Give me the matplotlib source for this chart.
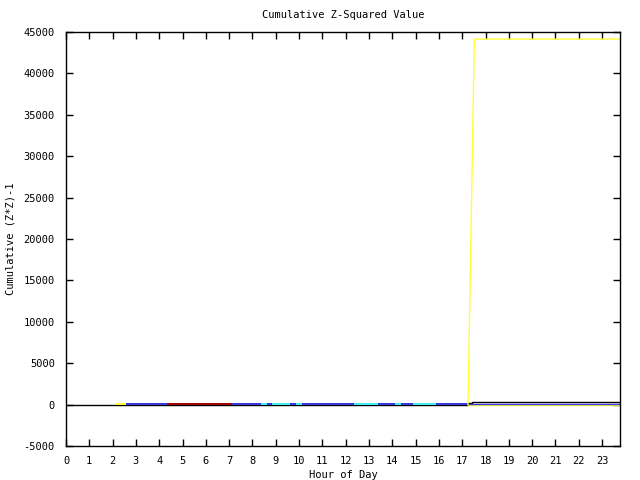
import matplotlib
matplotlib.use("Agg")
import matplotlib.pyplot as plt

# Overall cumulative total (black)
total_hours = [0.0, 17.25, 17.25, 17.4, 17.4, 23.75]
total_vals = [0, 0, 180, 180, 350, 350]

# Near-zero segments coloured by category
seg_start = [2.10, 2.57, 4.34, 7.11, 8.36, 8.62, 8.83, 9.62, 9.86, 10.13, 12.35, 13.39, 14.11, 14.37, 14.87, 15.87]
seg_end   = [2.57, 4.34, 7.11, 8.36, 8.62, 8.83, 9.62, 9.86, 10.13, 12.35, 13.39, 14.11, 14.37, 14.87, 15.87, 17.25]
seg_color = ["yellow", "blue", "red", "blue", "cyan", "blue", "cyan", "blue", "cyan", "blue", "cyan", "blue", "cyan", "blue", "cyan", "blue"]
seg_value = [90, 90, 90, 90, 90, 90, 90, 90, 90, 90, 90, 90, 90, 90, 90, 90]

# Blue after the jump
blue_hours = [17.25, 23.75]
blue_vals = [110, 110]

# Yellow spike
yellow_hours = [17.25, 17.52, 23.75]
yellow_vals = [0, 44150, 44150]
yellow_low_hours = [17.25, 23.75]
yellow_low_vals = [-20, -20]

palette = {"yellow": "#ffff33", "blue": "#3535e0", "red": "#a00000", "cyan": "#40f0f0"}

xticks = list(range(0, 24))
yticks = list(range(-5000, 45001, 5000))

fig = plt.figure(figsize=(6.4, 4.8), dpi=100)
ax = fig.add_axes([66/640, 34/480, (620-66)/640, (446-32)/480])

font = {"family": "DejaVu Sans Mono", "size": 7.5}

ax.plot(total_hours, total_vals, color="black", lw=1.0)
ax.plot(yellow_low_hours, yellow_low_vals, color=palette["yellow"], lw=1.0)
for s, e, c, v in zip(seg_start, seg_end, seg_color, seg_value):
    ax.plot([s, e], [v, v], color=palette[c], lw=1.4, solid_capstyle="butt")
ax.plot(blue_hours, blue_vals, color=palette["blue"], lw=1.0)
ax.plot(yellow_hours, yellow_vals, color=palette["yellow"], lw=1.0)

ax.set_xlim(0, 23.77)
ax.set_ylim(-5000, 45000)
ax.set_xticks(xticks)
ax.set_yticks(yticks)
ax.set_xticklabels([str(t) for t in xticks], **font)
ax.set_yticklabels([str(t) for t in yticks], **font)
ax.tick_params(direction="in", length=5, width=1, top=True, right=True, pad=7, color="black")
ax.tick_params(axis="y", pad=8)
for sp in ax.spines.values():
    sp.set_linewidth(1)
    sp.set_color("black")

ax.set_title("Cumulative Z-Squared Value", pad=10, **font)
ax.set_xlabel("Hour of Day", labelpad=3, **font)
ax.set_ylabel("Cumulative (Z*Z)-1", labelpad=6, **font)

fig.savefig("out.png", dpi=100)
